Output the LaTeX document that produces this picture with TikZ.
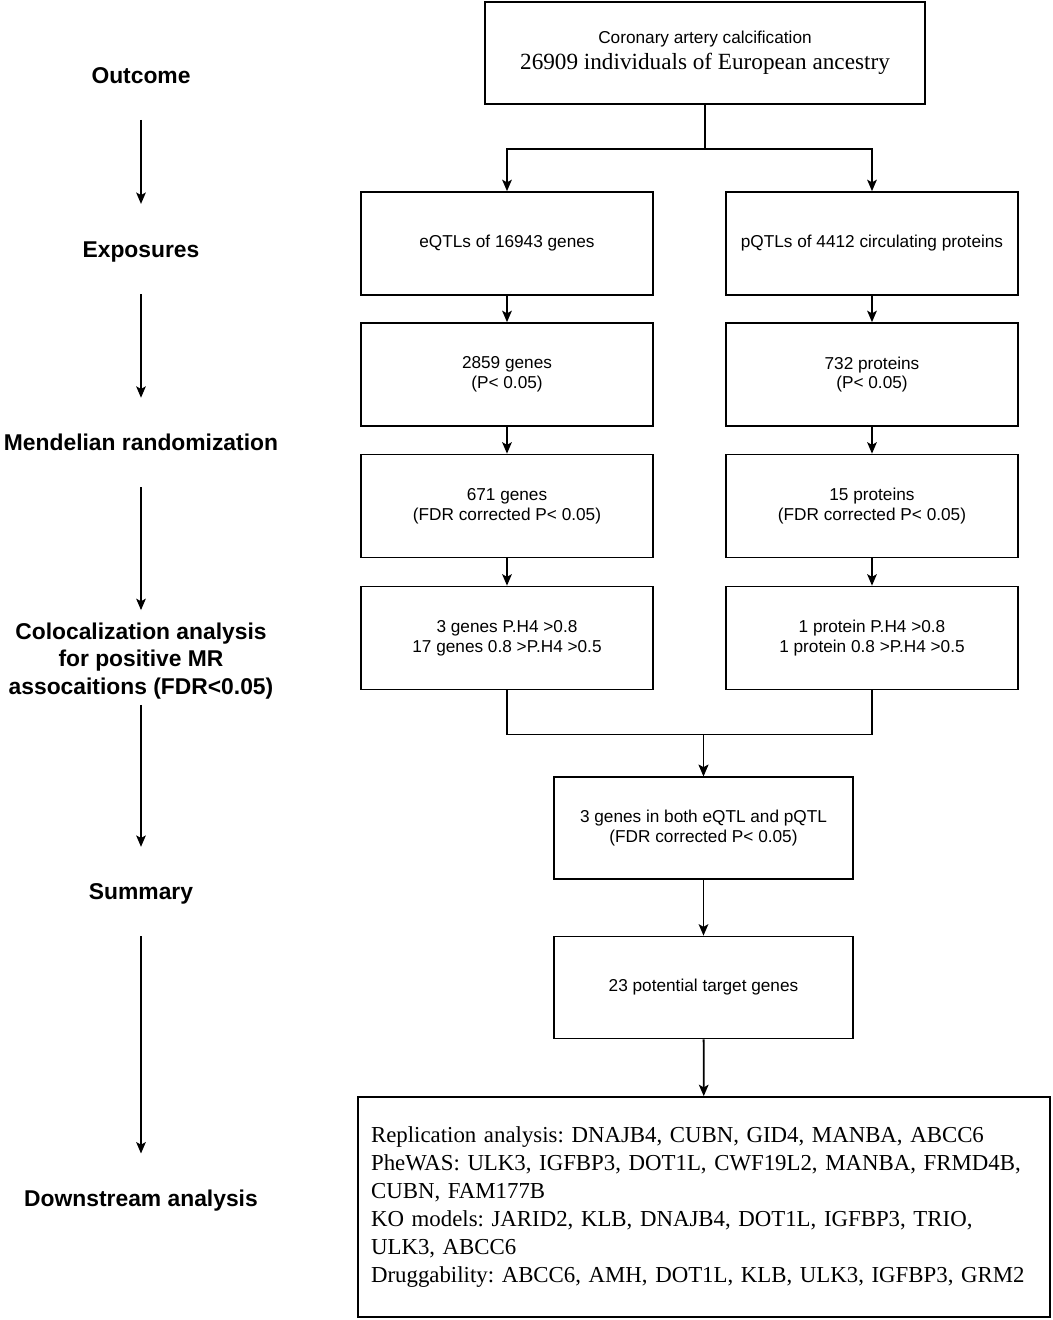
\documentclass[tikz,border=0pt]{standalone}
\usepackage{fontspec}
\setmainfont{Liberation Serif}
\setsansfont{Liberation Sans}
\usetikzlibrary{arrows.meta}
\tikzset{>={Stealth[length=6.5pt,width=5.5pt,inset=1.5pt]}}

\begin{document}
\begin{tikzpicture}[x=0.02cm, y=-0.02cm, line width=1pt,
  stage/.style={font=\sffamily\bfseries\fontsize{13}{15.6}\selectfont, align=center, inner sep=0pt},
  box/.style={draw, align=center, font=\sffamily\fontsize{9.8}{11.3}\selectfont, minimum width=5.84cm, minimum height=2.06cm},
  sumbox/.style={box, minimum width=5.98cm, minimum height=2.04cm}]
\useasboundingbox (0,0) rectangle (1053,1320);

% stages on the left
\node[stage] (outcome) at (141,76) {Outcome};
\node[stage] (expo) at (141,252) {Exposures};
\node[stage] (mr) at (141,442) {Mendelian randomization};
\node[stage] (coloc) at (141,661) {Colocalization analysis\\for positive MR\\assocaitions (FDR<0.05)};
\node[stage] (summ) at (141,894) {Summary};
\node[stage] (down) at (141,1201) {Downstream analysis};

\foreach \a/\b/\s/\e in {outcome/expo/0.7/0.74, expo/mr/0.62/0.7, mr/coloc/0.72/0.24,
  coloc/summ/0.1/0.72, summ/down/0.62/0.72}
  \draw[->, line width=0.7pt, shorten <=\s cm, shorten >=\e cm] (\a) -- (\b);

% outcome box
\node[box, minimum width=8.8cm, minimum height=2.04cm, font=\sffamily\fontsize{9.8}{15}\selectfont] (cac) at (705,53)
  {Coronary artery calcification\\{\rmfamily\fontsize{13.2}{15}\selectfont 26909 individuals of European ancestry}};

% eQTL column
\node[box] (e1) at (507,243.5) {eQTLs of 16943 genes};
\node[box] (e2) at (507,374.5) {2859 genes\\(P< 0.05)};
\node[box] (e3) at (507,506) {671 genes\\(FDR corrected P< 0.05)};
\node[box] (e4) at (507,638) {3 genes P.H4 >0.8\\17 genes 0.8 >P.H4 >0.5};

% pQTL column
\node[box] (p1) at (872,243.5) {pQTLs of 4412 circulating proteins};
\node[box] (p2) at (872,374.5) {732 proteins\\(P< 0.05)};
\node[box] (p3) at (872,506) {15 proteins\\(FDR corrected P< 0.05)};
\node[box] (p4) at (872,638) {1 protein P.H4 >0.8\\1 protein 0.8 >P.H4 >0.5};

% summary
\node[sumbox] (both) at (703.5,828) {3 genes in both eQTL and pQTL\\(FDR corrected P< 0.05)};
\node[sumbox] (target) at (703.5,987.5) {23 potential target genes};

% downstream
\node[draw, align=left, text width=13.32cm, inner xsep=0.26cm, minimum height=4.4cm,
  font=\rmfamily\frenchspacing\fontsize{13}{15.9}\selectfont] (dsa) at (704,1207)
  {Replication analysis: DNAJB4, CUBN, GID4, MANBA, ABCC6\\
   PheWAS: ULK3, IGFBP3, DOT1L, CWF19L2, MANBA, FRMD4B,\\
   CUBN, FAM177B\\
   KO models: JARID2, KLB, DNAJB4, DOT1L, IGFBP3, TRIO,\\
   ULK3, ABCC6\\
   Druggability: ABCC6, AMH, DOT1L, KLB, ULK3, IGFBP3, GRM2};

% connectors
\draw[->] (cac.south) -- ++(0,44) -| (e1.north);
\draw[->] (cac.south) -- ++(0,44) -| (p1.north);
\foreach \c in {e,p}{
  \draw[->] (\c1) -- (\c2);
  \draw[->] (\c2) -- (\c3);
  \draw[->] (\c3) -- (\c4);
}
\draw[->] (e4.south) -- ++(0,44) -| (both.north);
\draw[->] (p4.south) -- ++(0,44) -| (both.north);
\draw[->] (both) -- (target);
\draw[->] (target) -- (dsa);
\end{tikzpicture}
\end{document}
